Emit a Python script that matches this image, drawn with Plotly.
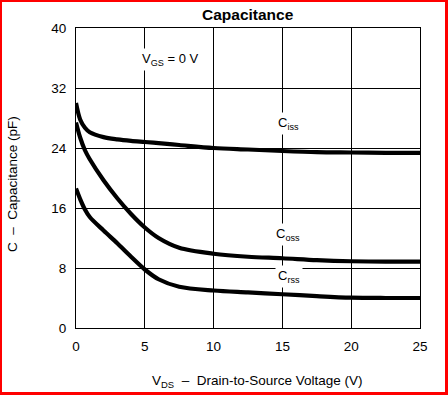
import plotly.graph_objects as go

# ---- data ----
vds = [0, 0.3, 0.65, 1, 2, 3, 4, 5, 6, 7.5, 10, 12.5, 15, 17.5, 20, 22.5, 25]
ciss = [30.0, 27.8, 26.7, 26.1, 25.45, 25.15, 24.95, 24.8, 24.65, 24.4, 24.0, 23.8, 23.6, 23.45, 23.4, 23.35, 23.35]
coss = [27.4, 25.4, 23.7, 22.5, 19.7, 17.3, 15.2, 13.4, 12.0, 10.7, 9.9, 9.5, 9.3, 9.05, 8.9, 8.85, 8.85]
crss = [18.6, 17.2, 15.8, 14.8, 13.0, 11.3, 9.5, 7.8, 6.5, 5.5, 5.0, 4.75, 4.5, 4.25, 4.05, 4.0, 4.0]
x_ticks = [0, 5, 10, 15, 20, 25]
y_ticks = [0, 8, 16, 24, 32, 40]

W, H = 448, 395
L, R, T, B = 76, 420, 28, 328
FONT = "Liberation Sans, Arial, sans-serif"


def px(p):
    return (p - L) / (R - L)


def py(p):
    return (B - p) / (B - T)


fig = go.Figure()
for ys in (ciss, coss, crss):
    fig.add_trace(go.Scatter(x=vds, y=ys, mode="lines",
                             line=dict(color="black", width=4.2, shape="spline", smoothing=0.9),
                             showlegend=False, hoverinfo="skip"))

axis_common = dict(showgrid=True, gridcolor="black", gridwidth=1,
                   showline=True, linecolor="black", linewidth=1, mirror=True,
                   zeroline=False, ticks="outside", tickcolor="rgba(0,0,0,0)",
                   tickfont=dict(family=FONT, size=13.5, color="black"))

fig.update_xaxes(range=[0, 25], tickvals=x_ticks, ticklen=6, **axis_common)
fig.update_yaxes(range=[0, 40], tickvals=y_ticks, ticklen=6, **axis_common)

shapes = []
# red frame around the whole image
for (x0, y0, x1, y1) in [(0, 0, 2, H), (0, 0, W, 2), (445, 0, W, H), (0, 392, W, H)]:
    shapes.append(dict(type="rect", xref="paper", yref="paper",
                       x0=px(x0), x1=px(x1), y0=py(y1), y1=py(y0),
                       fillcolor="red", line=dict(width=0), layer="above"))

annotations = [
    dict(text="<b>Capacitance</b>", x=px(248), y=py(14), font=dict(size=15.5)),
    dict(text="V<sub>DS</sub>\u00a0 \u2013\u00a0 Drain-to-Source Voltage (V)", x=px(257), y=py(381), font=dict(size=13.5)),
    dict(text="C\u00a0 \u2013\u00a0 Capacitance (pF)", x=px(12), y=py(184), font=dict(size=13.5), textangle=-90),
    dict(text="V<sub>GS</sub> = 0 V", x=px(170), y=py(59), font=dict(size=13), bgcolor="white", borderpad=2),
    dict(text="C<sub>iss</sub>", x=px(288), y=py(123), font=dict(size=13), bgcolor="white", borderpad=2),
    dict(text="C<sub>oss</sub>", x=px(288), y=py(235), font=dict(size=13), bgcolor="white", borderpad=2),
    dict(text="C<sub>rss</sub>", x=px(289), y=py(276), font=dict(size=13), bgcolor="white", borderpad=2),
]
for a in annotations:
    a.update(xref="paper", yref="paper", showarrow=False, xanchor="center", yanchor="middle")
    a["font"].update(family=FONT, color="black")

fig.update_layout(width=W, height=H, margin=dict(l=L, r=W - R, t=T, b=H - B),
                  plot_bgcolor="white", paper_bgcolor="white",
                  shapes=shapes, annotations=annotations)

fig.write_html("out.html", config={"displayModeBar": False},
               post_script="document.body.style.margin='0';document.body.style.overflow='hidden';")
